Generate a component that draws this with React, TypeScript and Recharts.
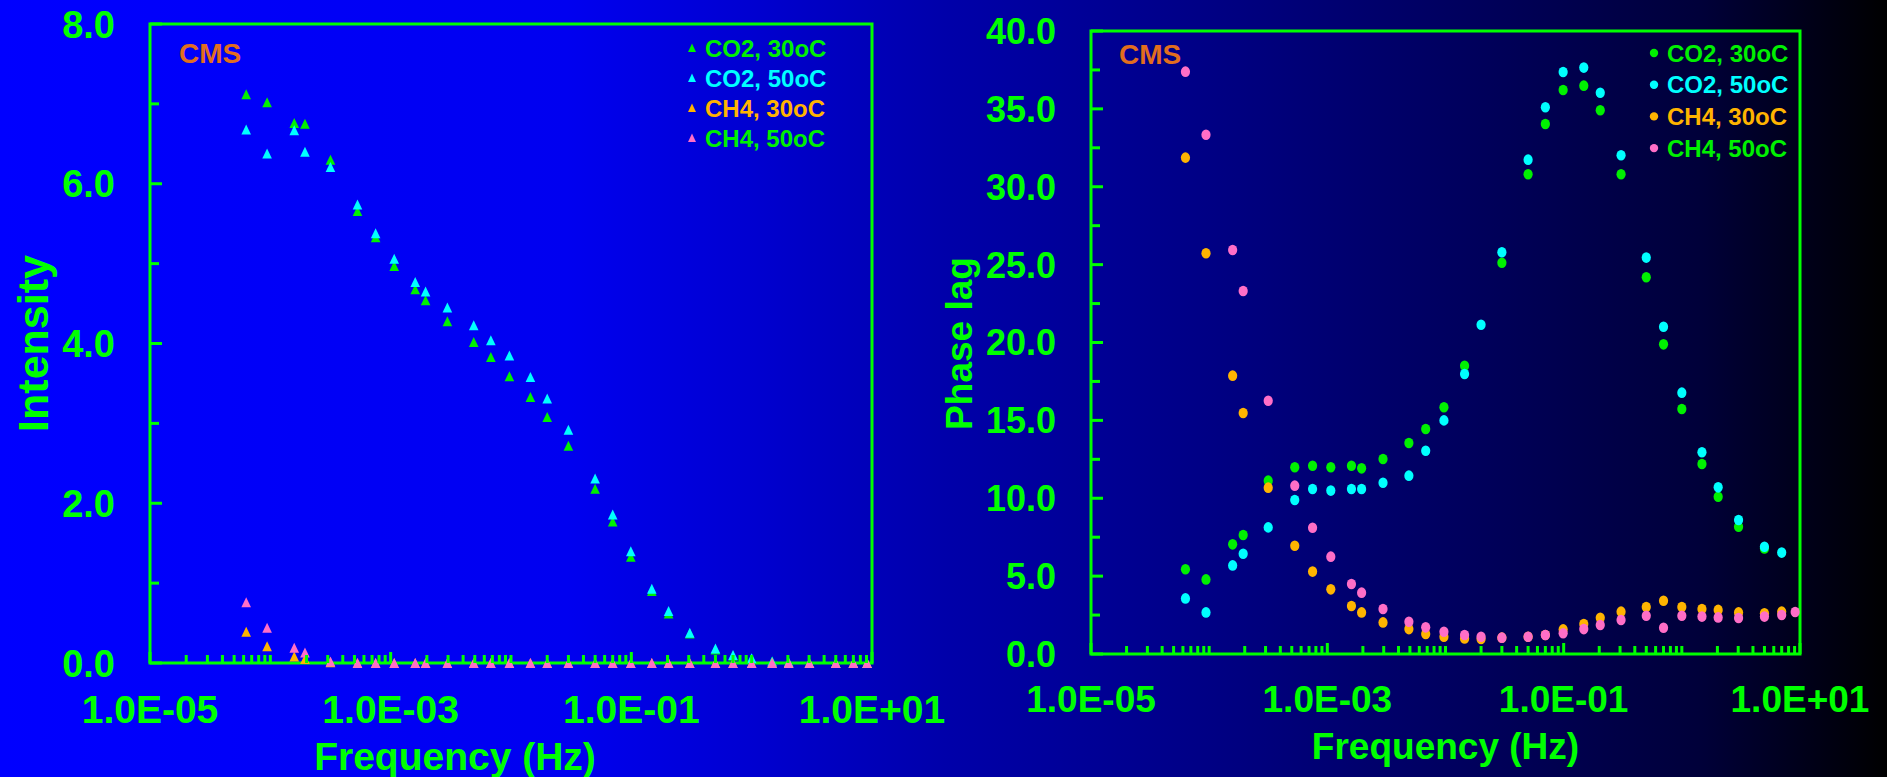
import React from 'react';
import { ScatterChart, Scatter, XAxis, YAxis, ReferenceArea, Label, Legend } from 'recharts';

// modulation frequencies (Hz), shared by both panels
const freqHz = [
  6.3e-5, 9.4e-5, 1.58e-4, 1.94e-4, 3.16e-4, 5.3e-4, 7.5e-4, 1.07e-3,
  1.6e-3, 1.95e-3, 2.96e-3, 4.9e-3, 6.8e-3, 9.7e-3, 1.45e-2, 2.0e-2,
  3.0e-2, 5.0e-2, 7.0e-2, 0.099, 0.148, 0.204, 0.306, 0.5,
  0.7, 1.0, 1.48, 2.03, 3.02, 5.0, 7.0, 9.1,
];

// amplitude (intensity)
const intensityCO2_30 = [
  7.12, 7.02, 6.76, 6.75, 6.3, 5.66, 5.33, 4.97, 4.68, 4.54, 4.28, 4.02, 3.83, 3.59, 3.33, 3.08,
  2.72, 2.18, 1.77, 1.33, 0.9, 0.62, 0.37, 0.17, 0.09, 0.05, 0.02, 0.01, 0, 0, 0, 0,
];
const intensityCO2_50 = [
  6.68, 6.38, 6.67, 6.4, 6.21, 5.74, 5.38, 5.06, 4.77, 4.65, 4.45, 4.23, 4.04, 3.85, 3.58, 3.31,
  2.92, 2.31, 1.86, 1.4, 0.93, 0.65, 0.38, 0.18, 0.1, 0.06, 0.02, 0.01, 0, 0, 0, 0,
];
const intensityCH4_30 = [
  0.39, 0.21, 0.08, 0.05, 0.01, 0, 0, 0, 0, 0, 0, 0, 0, 0, 0, 0,
  0, 0, 0, 0, 0, 0, 0, 0, 0, 0, 0, 0, 0, 0, 0, 0,
];
const intensityCH4_50 = [
  0.76, 0.44, 0.19, 0.13, 0.02, 0, 0, 0, 0, 0, 0, 0, 0, 0, 0, 0,
  0, 0, 0, 0, 0, 0, 0, 0, 0, 0, 0, 0, 0, 0, 0, 0,
];

// phase lag (degrees)
const phaseCO2_30 = [
  5.44, 4.79, 7.04, 7.64, 11.13, 11.99, 12.09, 11.99, 12.09, 11.92, 12.52, 13.55, 14.45, 15.84, 18.51, null,
  25.12, 30.8, 34.03, 36.21, 36.49, 34.91, 30.8, 24.19, 19.88, 15.73, 12.2, 10.1, 8.17, 6.78, null, null,
];
const phaseCO2_50 = [
  3.57, 2.67, 5.69, 6.44, 8.13, 9.89, 10.59, 10.49, 10.59, 10.59, 11.0, 11.45, 13.05, 15.0, 17.98, 21.14,
  25.79, 31.74, 35.1, 37.37, 37.65, 36.04, 32.02, 25.45, 21.01, 16.78, 12.95, 10.7, 8.6, 6.89, 6.51, null,
];
const phaseCH4_30 = [
  31.87, 25.73, 17.87, 15.47, 10.68, 6.95, 5.29, 4.15, 3.08, 2.67, 2.03, 1.6, 1.28, 1.11, 1.0, 0.96,
  1.05, 1.11, 1.22, 1.58, 1.93, 2.33, 2.72, 3.02, 3.42, 3.02, 2.89, 2.83, 2.67, 2.61, 2.72, null,
];
const phaseCH4_50 = [
  37.39, 33.34, 25.94, 23.31, 16.26, 10.81, 8.11, 6.25, 4.49, 3.94, 2.89, 2.07, 1.71, 1.43, 1.22, 1.11,
  1.05, 1.11, 1.22, 1.33, 1.6, 1.86, 2.18, 2.46, 1.69, 2.46, 2.4, 2.35, 2.31, 2.4, 2.5, 2.7,
];

const seriesNames = ['CO2, 30oC', 'CO2, 50oC', 'CH4, 30oC', 'CH4, 50oC'];
const markColors = ['#00f000', '#00ffff', '#ffb400', '#ff6ec7'];
const legendTextColors = ['#00f000', '#00ffff', '#ffb400', '#00f000'];

const xMajorTicks = [1e-5, 1e-3, 1e-1, 10];
const xTickLabels = ['1.0E-05', '1.0E-03', '1.0E-01', '1.0E+01'];

const intensityTicks = [0, 1, 2, 3, 4, 5, 6, 7, 8];
const intensityLabels = ['0.0', '', '2.0', '', '4.0', '', '6.0', '', '8.0'];
const phaseTicks = [0, 2.5, 5, 7.5, 10, 12.5, 15, 17.5, 20, 22.5, 25, 27.5, 30, 32.5, 35, 37.5, 40];
const phaseLabels = ['0.0', '', '5.0', '', '10.0', '', '15.0', '', '20.0', '', '25.0', '', '30.0', '', '35.0', '', '40.0'];

const GREEN = '#00ff00';
const CMS_ORANGE = '#e26e1e';
const FONT = '"Liberation Sans", Arial, Helvetica, sans-serif';

// log ticks 1..9 in every decade from 1e-5 up to 10
const logTicks: number[] = [];
for (let d = -5; d < 1; d++) {
  for (let m = 1; m < 10; m++) logTicks.push(m * Math.pow(10, d));
}
logTicks.push(10);

const toPoints = (vals: (number | null)[]) =>
  vals.map((v, i) => ({ f: freqHz[i], v })).filter((p) => p.v !== null);

const triangleShape = (color: string) => (p: any) => (
  <polygon
    points={`${p.cx},${p.cy - 5} ${p.cx - 4.8},${p.cy + 5} ${p.cx + 4.8},${p.cy + 5}`}
    fill={color}
  />
);
const dotShape = (color: string) => (p: any) => (
  <ellipse cx={p.cx} cy={p.cy} rx={4.6} ry={5.3} fill={color} />
);

function FreqTick(props: any) {
  const { x, y, payload, fontSize, labelDy } = props;
  const lg = Math.log10(payload.value);
  const idx = xMajorTicks.findIndex((t) => Math.abs(Math.log10(t) - lg) < 1e-6);
  const major = idx >= 0;
  return (
    <g>
      <line x1={x} x2={x} y1={y} y2={y - (major ? 11 : 8)} stroke={GREEN} strokeWidth={3} />
      {major && (
        <text x={x} y={y + labelDy} textAnchor="middle" fill={GREEN}
          fontSize={fontSize} fontWeight="bold" fontFamily={FONT}>
          {xTickLabels[idx]}
        </text>
      )}
    </g>
  );
}

function ValueTick(props: any) {
  const { x, y, index, labels, fontSize } = props;
  const label = labels[index];
  const major = label !== '';
  return (
    <g>
      <line x1={x} x2={x + (major ? 12 : 9)} y1={y} y2={y} stroke={GREEN} strokeWidth={3} />
      {major && (
        <text x={x - 35} y={y} dy="0.36em" textAnchor="end" fill={GREEN}
          fontSize={fontSize} fontWeight="bold" fontFamily={FONT}>
          {label}
        </text>
      )}
    </g>
  );
}

function LegendBox({ rowGap, firstRow, marker }: { rowGap: number; firstRow: number; marker: 'tri' | 'dot' }) {
  return (
    <svg width={190} height={140} style={{ display: 'block' }}>
      {seriesNames.map((name, i) => {
        const cy = firstRow + i * rowGap;
        return (
          <g key={name}>
            {marker === 'tri' ? (
              <polygon points={`12,${cy - 4.5} 8,${cy + 4} 16,${cy + 4}`} fill={markColors[i]} />
            ) : (
              <circle cx={14} cy={cy} r={4.2} fill={markColors[i]} />
            )}
            <text x={marker === 'tri' ? 25 : 27} y={cy + 8.5} fill={legendTextColors[i]}
              fontSize={24} fontWeight="bold" fontFamily={FONT}>
              {name}
            </text>
          </g>
        );
      })}
    </svg>
  );
}

const cmsLabel = (dx: number, dy: number) => (p: any) => {
  const vb = p.viewBox || { x: 0, y: 0 };
  return (
    <text x={vb.x + dx} y={vb.y + dy} fill={CMS_ORANGE} fontSize={28} fontWeight="bold" fontFamily={FONT}>
      CMS
    </text>
  );
};

function IntensityChart() {
  const series = [intensityCO2_30, intensityCO2_50, intensityCH4_30, intensityCH4_50];
  // extra room on the right so the last frequency label is not clipped
  return (
    <ScatterChart width={1000} height={777} margin={{ top: 24, right: 128, bottom: 54, left: 50 }}>
      <ReferenceArea x1={1e-5} x2={10} y1={0} y2={8} fill="none" stroke={GREEN} strokeWidth={3}>
        <Label content={cmsLabel(29, 39)} />
      </ReferenceArea>
      <XAxis
        dataKey="f" type="number" scale="log" domain={[1e-5, 10]} ticks={logTicks} interval={0}
        height={60} axisLine={false} tickLine={false} tickSize={0} tickMargin={0}
        tick={(p: any) => <FreqTick {...p} fontSize={39} labelDy={60} />}
        label={{
          content: (p: any) => {
            const vb = p.viewBox || { x: 150, y: 663 };
            return (
              <text x={vb.x + 305} y={vb.y + 107} textAnchor="middle" fill={GREEN}
                fontSize={39} fontWeight="bold" fontFamily={FONT}>Frequency (Hz)</text>
            );
          },
        }}
      />
      <YAxis
        dataKey="v" type="number" domain={[0, 8]} ticks={intensityTicks} interval={0}
        width={100} axisLine={false} tickLine={false} tickSize={0} tickMargin={0}
        tick={(p: any) => <ValueTick {...p} labels={intensityLabels} fontSize={38} />}
        label={{
          content: (p: any) => {
            const vb = p.viewBox || { x: 50, y: 24, height: 639 };
            const cx = vb.x - 2;
            const cy = vb.y + vb.height / 2;
            return (
              <text x={cx} y={cy} transform={`rotate(-90, ${cx}, ${cy})`} textAnchor="middle"
                fill={GREEN} fontSize={43} fontWeight="bold" fontFamily={FONT}>Intensity</text>
            );
          },
        }}
      />
      <Legend
        layout="vertical" align="center" verticalAlign="middle"
        wrapperStyle={{ left: 680, top: 30, width: 190 }}
        content={() => <LegendBox rowGap={30} firstRow={18} marker="tri" />}
      />
      {series.map((vals, i) => (
        <Scatter key={seriesNames[i]} name={seriesNames[i]} data={toPoints(vals)}
          fill={markColors[i]} shape={triangleShape(markColors[i])} isAnimationActive={false} />
      ))}
    </ScatterChart>
  );
}

function PhaseChart() {
  const series = [phaseCO2_30, phaseCO2_50, phaseCH4_30, phaseCH4_50];
  return (
    <ScatterChart width={957} height={777} margin={{ top: 31, right: 87, bottom: 63, left: 61 }}>
      <ReferenceArea x1={1e-5} x2={10} y1={0} y2={40} fill="none" stroke={GREEN} strokeWidth={3}>
        <Label content={cmsLabel(28, 33)} />
      </ReferenceArea>
      <XAxis
        dataKey="f" type="number" scale="log" domain={[1e-5, 10]} ticks={logTicks} interval={0}
        height={60} axisLine={false} tickLine={false} tickSize={0} tickMargin={0}
        tick={(p: any) => <FreqTick {...p} fontSize={37} labelDy={58} />}
        label={{
          content: (p: any) => {
            const vb = p.viewBox || { x: 161, y: 654, width: 709 };
            return (
              <text x={vb.x + vb.width / 2} y={vb.y + 105} textAnchor="middle" fill={GREEN}
                fontSize={37} fontWeight="bold" fontFamily={FONT}>Frequency (Hz)</text>
            );
          },
        }}
      />
      <YAxis
        dataKey="v" type="number" domain={[0, 40]} ticks={phaseTicks} interval={0}
        width={100} axisLine={false} tickLine={false} tickSize={0} tickMargin={0}
        tick={(p: any) => <ValueTick {...p} labels={phaseLabels} fontSize={36} />}
        label={{
          content: (p: any) => {
            const vb = p.viewBox || { x: 61, y: 31, height: 623 };
            const cx = vb.x - 19;
            const cy = vb.y + vb.height / 2 + 1;
            return (
              <text x={cx} y={cy} transform={`rotate(-90, ${cx}, ${cy})`} textAnchor="middle"
                fill={GREEN} fontSize={37} fontWeight="bold" fontFamily={FONT}>Phase lag</text>
            );
          },
        }}
      />
      <Legend
        layout="vertical" align="center" verticalAlign="middle"
        wrapperStyle={{ left: 710, top: 32, width: 190 }}
        content={() => <LegendBox rowGap={31.7} firstRow={21} marker="dot" />}
      />
      {series.map((vals, i) => (
        <Scatter key={seriesNames[i]} name={seriesNames[i]} data={toPoints(vals)}
          fill={markColors[i]} shape={dotShape(markColors[i])} isAnimationActive={false} />
      ))}
    </ScatterChart>
  );
}

export default function App() {
  return (
    <div
      style={{
        position: 'absolute', left: 0, top: 0, width: 1887, height: 777, overflow: 'hidden',
        background:
          'linear-gradient(to right, #0000ff 0%, #0000f0 30%, #0000d0 40%, #0000aa 50%, #000090 60%, #000065 75%, #00003a 90%, #000000 100%)',
      }}
    >
      <div style={{ position: 'absolute', left: 0, top: 0 }}>
        <IntensityChart />
      </div>
      <div style={{ position: 'absolute', left: 930, top: 0 }}>
        <PhaseChart />
      </div>
    </div>
  );
}
